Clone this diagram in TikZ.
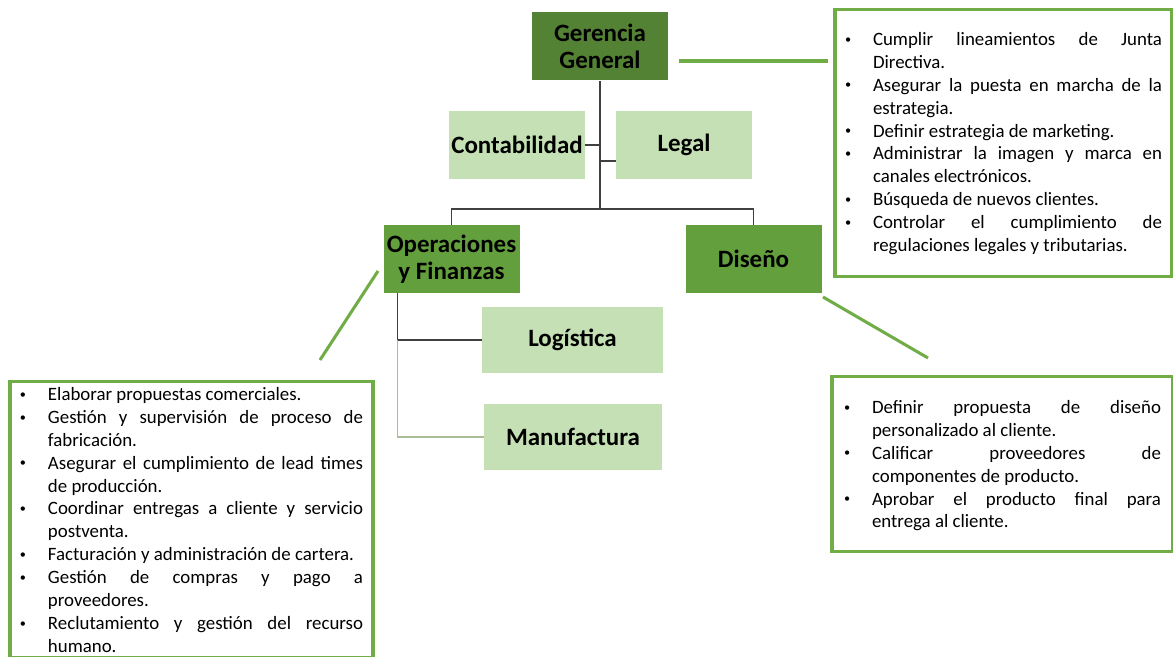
\documentclass[tikz,border=0pt]{standalone}
\usepackage{fontspec}
\setmainfont{Carlito}
\usetikzlibrary{positioning}

\definecolor{darkgreen}{HTML}{548235}
\definecolor{midgreen}{HTML}{63A03D}
\definecolor{palegreen}{HTML}{C5E0B4}
\definecolor{framegreen}{HTML}{70AD47}
\definecolor{linkgray}{HTML}{404040}

\newcommand{\dutymark}{\raisebox{0.12em}{\scalebox{0.65}{\textbullet}}}
\newenvironment{duties}{%
  \fontsize{16.1}{19.55}\selectfont
  \hyphenpenalty=10000 \exhyphenpenalty=10000 \tolerance=10000 \hbadness=10000
  \begin{list}{\dutymark}{\setlength{\leftmargin}{0.84cm}\setlength{\labelwidth}{0.84cm}%
    \setlength{\labelsep}{0pt}\setlength{\itemsep}{0pt}\setlength{\parsep}{0pt}%
    \setlength{\topsep}{0pt}\setlength{\partopsep}{0pt}\renewcommand{\makelabel}[1]{##1\hfil}}}%
  {\end{list}}

\begin{document}
\begin{tikzpicture}[x=0.03cm, y=-0.03cm,
  unit/.style={rectangle, minimum width=4.08cm, minimum height=2.04cm, inner sep=0pt, align=center, font=\bfseries\fontsize{21.3}{23}\selectfont},
  head/.style={unit, fill=darkgreen},
  dept/.style={unit, fill=midgreen},
  staff/.style={unit, fill=palegreen},
  tasks/.style={rectangle, draw=framegreen, line width=2.6pt, inner xsep=0.3cm, align=justify},
  link/.style={draw=linkgray, line width=1.2pt},
  linklt/.style={draw=palegreen!85!black, line width=1pt},
  callout/.style={draw=framegreen, line width=2.6pt}]
\useasboundingbox (0,0) rectangle (1173,657);

% organigrama
\node[head] (gg) at (600,46.5) {Gerencia\\General};
\node[staff] (cont) at (517,145) {Contabilidad};
\node[staff] (legal) at (684,145) {Legal};
\node[dept] (ops) at (451.5,259) {Operaciones\\y Finanzas};
\node[dept] (dis) at (753.5,259) {Diseño};
\node[staff, minimum width=5.43cm, minimum height=1.98cm] (log) at (572.5,340) {Logística};
\node[staff, minimum width=5.34cm, minimum height=1.98cm] (man) at (573,437) {Manufactura};

\coordinate (bus) at (600,209);
\draw[link] (gg.south) -- (bus);
\draw[link] (cont.east) -- (cont.east -| bus);
\coordinate (legalin) at ([yshift=-0.48cm]legal.west);
\draw[link] (legalin) -- (legalin -| bus);
\draw[link] (ops.north) |- (bus) -| (dis.north);
\coordinate (opsdrop) at ([xshift=0.42cm]ops.south west);
\draw[link] (opsdrop) |- (log.west);
\draw[linklt] (opsdrop |- log.west) |- (man.west);

% funciones
\node[tasks, text width=9.51cm, inner ysep=0.66cm, anchor=north] (ggtasks) at (1003.5,8) {%
\vspace*{-0.27cm}
\begin{duties}
\item Cumplir lineamientos de Junta\linebreak Directiva.
\item Asegurar la puesta en marcha de la\linebreak estrategia.
\item Definir estrategia de marketing.
\item Administrar la imagen y marca en\linebreak canales electrónicos.
\item Búsqueda de nuevos clientes.
\item Controlar el cumplimiento de\linebreak regulaciones legales y tributarias.
\end{duties}\par\vspace*{0.1cm}};

\node[tasks, text width=10.29cm, inner ysep=0.15cm, anchor=north] (opstasks) at (191.5,380) {%
\vspace*{-0.27cm}
\begin{duties}
\item Elaborar propuestas comerciales.
\item Gestión y supervisión de proceso de\linebreak fabricación.
\item Asegurar el cumplimiento de lead times\linebreak de producción.
\item Coordinar entregas a cliente y servicio\linebreak postventa.
\item Facturación y administración de cartera.
\item Gestión de compras y pago a\linebreak proveedores.
\item Reclutamiento y gestión del recurso\linebreak humano.
\end{duties}\par\vspace*{0.5cm}};

\node[tasks, text width=9.51cm, inner xsep=0.36cm, inner ysep=0.6cm, anchor=north] (distasks) at (1002.5,375) {%
\vspace*{-0.18cm}
\begin{duties}
\item Definir propuesta de diseño\linebreak personalizado al cliente.
\item Calificar proveedores de\linebreak componentes de producto.
\item Aprobar el producto final para\linebreak entrega al cliente.
\end{duties}\par\vspace*{0.12cm}};

\coordinate (ggc1) at (679,61);
\coordinate (ggc2) at (828,61);
\draw[callout] (ggc1) -- (ggc2);
\coordinate (opsc1) at (378,271);
\coordinate (opsc2) at (320,360);
\draw[callout] (opsc1) -- (opsc2);
\coordinate (disc1) at (823,297);
\coordinate (disc2) at (928,358);
\draw[callout] (disc1) -- (disc2);
\end{tikzpicture}
\end{document}
